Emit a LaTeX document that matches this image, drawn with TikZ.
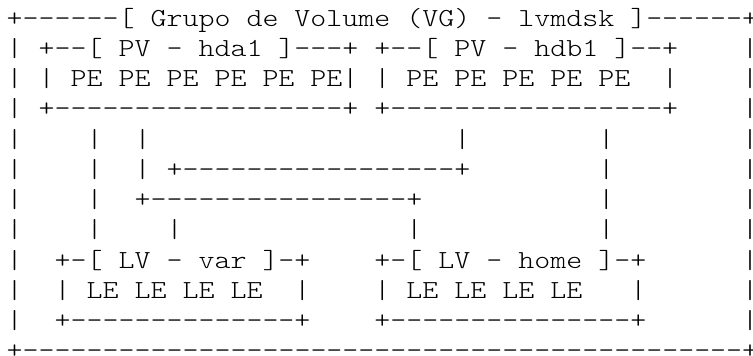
\documentclass[tikz,border=0pt]{standalone}
\usepackage{fontspec}
\newfontfamily\asciiface[FakeStretch=1.1714]{lmmonolt10-regular.otf}
\newcommand{\asciifont}{\asciiface\fontsize{26pt}{30.23pt}\selectfont}
\tikzset{
  asciirow/.style={anchor=base west, inner sep=0pt, outer sep=0pt, font=\asciifont, text=black}
}
\begin{document}
\begin{tikzpicture}[x=1pt,y=1pt]
\fill[white] (0,0) rectangle (753,-356);
\useasboundingbox (0,0) rectangle (753,-356);
\node[asciirow] (r1)  at (6.7,-26.24)  {+------[~Grupo~de~Volume~(VG)~-~lvmdsk~]------+};
\node[asciirow] (r2)  at (6.7,-56.47)  {|~+--[~PV~-~hda1~]---+~+--[~PV~-~hdb1~]--+~~~~|};
\node[asciirow] (r3)  at (6.7,-86.70)  {|~|~PE~PE~PE~PE~PE~PE|~|~PE~PE~PE~PE~PE~~|~~~~|};
\node[asciirow] (r4)  at (6.7,-116.93) {|~+------------------+~+-----------------+~~~~|};
\node[asciirow] (r5)  at (6.7,-147.16) {|~~~~|~~|~~~~~~~~~~~~~~~~~~~|~~~~~~~~|~~~~~~~~|};
\node[asciirow] (r6)  at (6.7,-177.39) {|~~~~|~~|~+-----------------+~~~~~~~~|~~~~~~~~|};
\node[asciirow] (r7)  at (6.7,-207.62) {|~~~~|~~+----------------+~~~~~~~~~~~|~~~~~~~~|};
\node[asciirow] (r8)  at (6.7,-237.85) {|~~~~|~~~~|~~~~~~~~~~~~~~|~~~~~~~~~~~|~~~~~~~~|};
\node[asciirow] (r9)  at (6.7,-268.08) {|~~+-[~LV~-~var~]-+~~~~+-[~LV~-~home~]-+~~~~~~|};
\node[asciirow] (r10) at (6.7,-298.31) {|~~|~LE~LE~LE~LE~~|~~~~|~LE~LE~LE~LE~~~|~~~~~~|};
\node[asciirow] (r11) at (6.7,-328.54) {|~~+--------------+~~~~+---------------+~~~~~~|};
\node[asciirow] (r12) at (6.7,-358.77) {+---------------------------------------------+};
\end{tikzpicture}
\end{document}
